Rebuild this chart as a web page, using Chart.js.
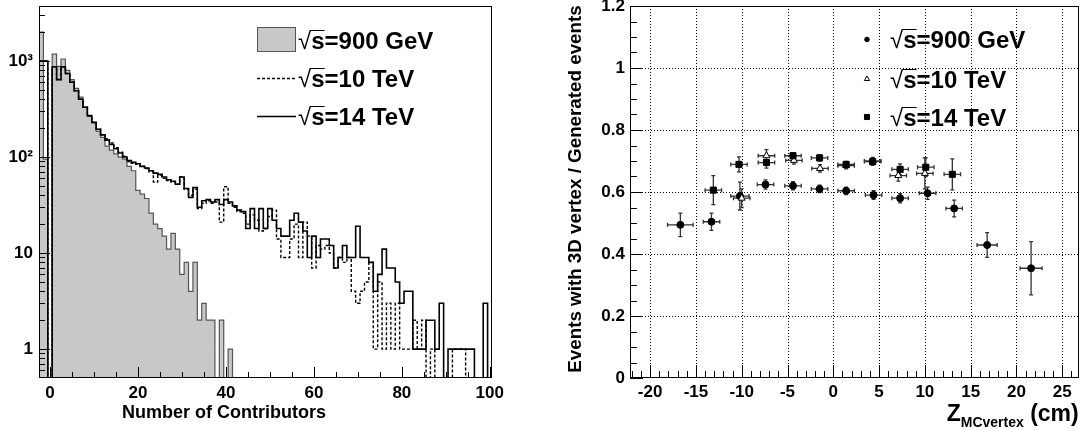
<!DOCTYPE html>
<html><head><meta charset="utf-8">
<script src="https://cdn.jsdelivr.net/npm/chart.js@4.4.1/dist/chart.umd.min.js"></script>
<style>
html,body{margin:0;padding:0;background:#fff;}
#wrap{position:relative;width:1084px;height:430px;overflow:hidden;background:#fff;}
#c1{position:absolute;left:0;top:0;}
#c2{position:absolute;left:540px;top:0;}
</style></head><body>
<div id="wrap"><canvas id="c1" width="540" height="430"></canvas><canvas id="c2" width="544" height="430"></canvas></div>
<script>
// ---------- data: left panel (histograms, bins -2 .. 100) ----------
const contributorBins = Array.from({length: 103}, (_, i) => i - 2);
const hist900GeV = [
  2000, 95, 0,
  1180, 880, 1050, 800, 640, 520, 420, 330, 265, 225,
  185, 160, 130, 118, 108, 100, 95, 80, 72, 45,
  41, 37, 26, 20, 18, 15, 11, 16, 11, 6,
  8, 4, 8, 2, 3, 2, 2, 0, 2, 0,
  1, 0, 0, 0, 0, 0, 0, 0, 0, 0,
  0, 0, 0, 0, 0, 0, 0, 0, 0, 0,
  0, 0, 0, 0, 0, 0, 0, 0, 0, 0,
  0, 0, 0, 0, 0, 0, 0, 0, 0, 0,
  0, 0, 0, 0, 0, 0, 0, 0, 0, 0,
  0, 0, 0, 0, 0, 0, 0, 0, 0, 0
];
const hist10TeV = [
  1000, 1000, 0,
  870, 640, 870, 740, 600, 490, 400, 330, 270, 230,
  195, 170, 155, 140, 125, 112, 102, 90, 86, 84,
  80, 76, 70, 55, 64, 60, 57, 55, 52, 62,
  46, 40, 46, 29, 33, 35, 33, 34, 21, 49,
  33, 30, 27, 26, 20, 25, 22, 17, 18, 24,
  28, 14, 9, 9, 14, 20, 9, 21, 15, 7,
  12, 11, 12, 10, 7, 9, 8, 9, 4, 3,
  4, 5, 8, 1, 5, 1, 3, 1, 3, 1,
  1, 1, 2, 1, 2, 0, 1, 0, 0, 0,
  0, 1, 1, 1, 0, 0, 0, 0, 0, 0
];
const hist14TeV = [
  1000, 1000, 0,
  870, 640, 870, 740, 600, 490, 400, 330, 270, 230,
  195, 170, 150, 135, 122, 110, 100, 92, 88, 85,
  80, 77, 72, 68, 66, 62, 58, 56, 52, 62,
  47, 38, 48, 30, 35, 36, 34, 36, 32, 36,
  34, 31, 28, 27, 18, 29, 18, 29, 18, 29,
  22, 18, 15, 15, 22, 26, 21, 17, 9, 15,
  9, 14, 14, 12, 7, 9, 12, 9, 9, 19,
  9, 9, 8, 4, 6, 11, 7, 7, 5, 3,
  4, 4, 1, 1, 1, 2, 2, 1, 3, 0,
  1, 1, 1, 1, 1, 1, 0, 0, 3, 0
];
const histXTicks = [0, 20, 40, 60, 80, 100];
const histXTickLabels = ['0', '20', '40', '60', '80', '100'];
const histYTicks = [1, 10, 100, 1000];
const histYTickLabels = ['1', '10', '10\u00B2', '10\u00B3'];
const seriesLabels = ['\u221As=900 GeV', '\u221As=10 TeV', '\u221As=14 TeV'];

// ---------- data: right panel (efficiency vs z) ----------
const z900 = [-16.7, -13.3, -10.2, -7.4, -4.4, -1.5, 1.4, 4.4, 7.3, 10.3, 13.2, 16.8, 21.6];
const eff900 = [0.494, 0.504, 0.587, 0.624, 0.620, 0.610, 0.604, 0.590, 0.580, 0.596, 0.547, 0.429, 0.354];
const zErr900 = [1.4, 0.9, 1.0, 0.9, 0.9, 0.9, 0.9, 0.9, 0.9, 0.9, 0.9, 1.1, 1.2];
const effErr900 = [0.038, 0.028, 0.045, 0.015, 0.013, 0.012, 0.012, 0.014, 0.015, 0.02, 0.027, 0.04, 0.086];

const z10 = [-10.0, -7.3, -4.3, -1.45, 1.4, 4.3, 7.1, 10.0];
const eff10 = [0.580, 0.717, 0.702, 0.676, 0.685, 0.700, 0.653, 0.660];
const zErr10 = [0.9, 0.9, 0.9, 0.9, 0.9, 0.9, 0.9, 0.9];
const effErr10 = [0.03, 0.02, 0.012, 0.012, 0.01, 0.012, 0.018, 0.05];

const z14 = [-13.1, -10.3, -7.3, -4.4, -1.5, 1.4, 4.3, 7.3, 10.1, 13.0];
const eff14 = [0.606, 0.689, 0.695, 0.717, 0.710, 0.689, 0.698, 0.673, 0.680, 0.657];
const zErr14 = [0.9, 0.9, 0.9, 0.9, 0.9, 0.9, 0.9, 0.9, 0.9, 0.9];
const effErr14 = [0.047, 0.024, 0.018, 0.01, 0.01, 0.01, 0.012, 0.018, 0.03, 0.05];

const effXTicks = [-20, -15, -10, -5, 0, 5, 10, 15, 20, 25];
const effXTickLabels = ['-20', '-15', '-10', '-5', '0', '5', '10', '15', '20', '25'];
const effYTicks = [0, 0.2, 0.4, 0.6, 0.8, 1, 1.2];
const effYTickLabels = ['0', '0.2', '0.4', '0.6', '0.8', '1', '1.2'];

// ---------- helpers ----------
const FONT = '"Liberation Sans", Arial, Helvetica, sans-serif';
const LOG_FLOOR = 1e-3; // empty bins are drawn below the axis minimum (log scale cannot show 0)
function stepPoints(vals) {
  const pts = [];
  vals.forEach((v, i) => {
    const c = contributorBins[i];
    const y = v > 0 ? v : LOG_FLOOR;
    pts.push({x: c - 0.5, y: y}, {x: c + 0.5, y: y});
  });
  return pts;
}
function range(a, b, step) { const r = []; for (let v = a; v <= b + 1e-9; v += step) r.push(+v.toFixed(4)); return r; }
function logMinor(min, max) {
  const r = [];
  for (let d = 0.1; d <= 1000; d *= 10) for (let m = 2; m <= 9; m++) { const v = +(m * d).toPrecision(3); if (v > min && v < max && histYTicks.indexOf(v) < 0) r.push(v); }
  return r;
}
function drawSqrtLabel(ctx, label, x, yc, size) {
  const rest = label.slice(2);
  ctx.save();
  ctx.fillStyle = '#000'; ctx.strokeStyle = '#000';
  ctx.textBaseline = 'alphabetic'; ctx.textAlign = 'left';
  const base = yc + size * 0.36;
  ctx.font = `${size}px ${FONT}`;
  const rad = ctx.measureText('\u221A');
  ctx.fillText('\u221A', x, base);
  const top = Math.round(base - rad.actualBoundingBoxAscent) + 0.5;
  ctx.font = `bold ${size}px ${FONT}`;
  const sw = ctx.measureText('s').width;
  const sx = x + rad.width;
  ctx.fillText('s' + rest, sx, base);
  ctx.lineWidth = 1;
  ctx.beginPath(); ctx.moveTo(sx - 1, top); ctx.lineTo(sx + sw, top); ctx.stroke();
  ctx.restore();
}

const rootFrame = {
  id: 'rootFrame',
  beforeDatasetsDraw(chart, args, o) {
    const ctx = chart.ctx, a = chart.chartArea, xs = chart.scales.x, ys = chart.scales.y;
    ctx.save();
    if (o.grid) {
      ctx.strokeStyle = '#000'; ctx.lineWidth = 1; ctx.setLineDash([1, 2]);
      o.grid.x.forEach(v => { const p = Math.round(xs.getPixelForValue(v)) + 0.5; ctx.beginPath(); ctx.moveTo(p, a.top); ctx.lineTo(p, a.bottom); ctx.stroke(); });
      o.grid.y.forEach(v => { const p = Math.round(ys.getPixelForValue(v)) + 0.5; ctx.beginPath(); ctx.moveTo(a.left, p); ctx.lineTo(a.right, p); ctx.stroke(); });
      ctx.setLineDash([]);
    }
    if (o.errorBars) {
      chart.data.datasets.forEach(ds => {
        ctx.strokeStyle = '#333'; ctx.lineWidth = 1.3;
        ds.data.forEach((p, j) => {
          const px = xs.getPixelForValue(p.x), py = ys.getPixelForValue(p.y);
          const x1 = xs.getPixelForValue(p.x - ds.xErr[j]), x2 = xs.getPixelForValue(p.x + ds.xErr[j]);
          const y1 = ys.getPixelForValue(p.y - ds.yErr[j]), y2 = ys.getPixelForValue(p.y + ds.yErr[j]);
          ctx.beginPath();
          ctx.moveTo(x1, py); ctx.lineTo(x2, py);
          ctx.moveTo(px, y1); ctx.lineTo(px, y2);
          ctx.moveTo(x1, py - 2); ctx.lineTo(x1, py + 2);
          ctx.moveTo(x2, py - 2); ctx.lineTo(x2, py + 2);
          ctx.moveTo(px - 2, y1); ctx.lineTo(px + 2, y1);
          ctx.moveTo(px - 2, y2); ctx.lineTo(px + 2, y2);
          ctx.stroke();
        });
      });
    }
    ctx.restore();
  },
  afterDraw(chart, args, o) {
    const ctx = chart.ctx, a = chart.chartArea, xs = chart.scales.x, ys = chart.scales.y;
    ctx.save();
    ctx.strokeStyle = '#000'; ctx.lineWidth = 1;
    ctx.strokeRect(Math.round(a.left) + 0.5, Math.round(a.top) + 0.5, Math.round(a.width) - 1, Math.round(a.height) - 1);
    ctx.beginPath();
    o.ticks.xMajor.forEach(v => { const p = Math.round(xs.getPixelForValue(v)) + 0.5; ctx.moveTo(p, a.bottom); ctx.lineTo(p, a.bottom - o.ticks.majorLen); });
    o.ticks.xMinor.forEach(v => { const p = Math.round(xs.getPixelForValue(v)) + 0.5; ctx.moveTo(p, a.bottom); ctx.lineTo(p, a.bottom - o.ticks.minorLen); });
    o.ticks.yMajor.forEach(v => { const p = Math.round(ys.getPixelForValue(v)) + 0.5; ctx.moveTo(a.left, p); ctx.lineTo(a.left + o.ticks.majorLen, p); });
    o.ticks.yMinor.forEach(v => { const p = Math.round(ys.getPixelForValue(v)) + 0.5; ctx.moveTo(a.left, p); ctx.lineTo(a.left + o.ticks.minorLen, p); });
    ctx.stroke();
    ctx.restore();
  }
};

const leftDecor = {
  id: 'leftDecor',
  afterDraw(chart) {
    const ctx = chart.ctx, ds = chart.data.datasets;
    ctx.save();
    // legend
    const g = ds[2];
    ctx.fillStyle = g.backgroundColor; ctx.fillRect(257, 27, 39, 25);
    ctx.strokeStyle = g.borderColor; ctx.lineWidth = 1; ctx.strokeRect(257.5, 27.5, 38, 24);
    ctx.strokeStyle = '#000';
    ctx.lineWidth = ds[1].borderWidth; ctx.setLineDash(ds[1].borderDash);
    ctx.beginPath(); ctx.moveTo(257, 78.5); ctx.lineTo(296, 78.5); ctx.stroke();
    ctx.setLineDash([]); ctx.lineWidth = 1.3;
    ctx.beginPath(); ctx.moveTo(257, 116.5); ctx.lineTo(296, 116.5); ctx.stroke();
    drawSqrtLabel(ctx, g.label, 298, 40, 24);
    drawSqrtLabel(ctx, ds[1].label, 298, 78, 24);
    drawSqrtLabel(ctx, ds[0].label, 298, 116, 24);
    // axis title
    ctx.fillStyle = '#000'; ctx.font = `bold 18px ${FONT}`; ctx.textAlign = 'center'; ctx.textBaseline = 'alphabetic';
    ctx.fillText('Number of Contributors', 224, 418);
    ctx.restore();
  }
};

const rightDecor = {
  id: 'rightDecor',
  afterDraw(chart) {
    const ctx = chart.ctx, ds = chart.data.datasets;
    ctx.save();
    const ys = [39.5, 79, 117];
    ds.forEach((d, i) => {
      ctx.fillStyle = d.backgroundColor; ctx.strokeStyle = d.borderColor; ctx.lineWidth = 1;
      Chart.helpers.drawPoint(ctx, {pointStyle: d.pointStyle, radius: d.legendRadius, borderWidth: 1}, 327, ys[i]);
      drawSqrtLabel(ctx, d.label, 350, ys[i], 24);
    });
    // y title
    ctx.fillStyle = '#000'; ctx.font = `bold 18.8px ${FONT}`; ctx.textAlign = 'center'; ctx.textBaseline = 'middle';
    ctx.save(); ctx.translate(36, 189); ctx.rotate(-Math.PI / 2);
    ctx.fillText('Events with 3D vertex / Generated events', 0, 0);
    ctx.restore();
    // x title (right aligned at frame end)
    ctx.textBaseline = 'alphabetic'; ctx.textAlign = 'left';
    ctx.font = `bold 23px ${FONT}`;
    const wZ = ctx.measureText('Z').width, wCm = ctx.measureText(' (cm)').width;
    ctx.font = `bold 14px ${FONT}`;
    const wSub = ctx.measureText('MCvertex').width;
    let x = chart.chartArea.right - (wZ + wSub + wCm);
    ctx.font = `bold 23px ${FONT}`; ctx.fillText('Z', x, 421); x += wZ;
    ctx.font = `bold 14px ${FONT}`; ctx.fillText('MCvertex', x, 427); x += wSub;
    ctx.font = `bold 23px ${FONT}`; ctx.fillText(' (cm)', x, 421);
    ctx.restore();
  }
};

const tickFont = {family: FONT, size: 17, weight: 'bold'};

// ---------- left chart ----------
new Chart(document.getElementById('c1'), {
  type: 'line',
  data: {
    datasets: [
      {label: seriesLabels[2], data: stepPoints(hist14TeV), borderColor: '#000', borderWidth: 1.6, pointRadius: 0, fill: false, order: 1},
      {label: seriesLabels[1], data: stepPoints(hist10TeV), borderColor: '#000', borderWidth: 1.4, borderDash: [3, 2], pointRadius: 0, fill: false, order: 2},
      {label: seriesLabels[0], data: stepPoints(hist900GeV), borderColor: '#555', backgroundColor: '#c8c8c8', borderWidth: 1.2, pointRadius: 0, fill: 'start', order: 3}
    ]
  },
  options: {
    responsive: false, animation: false, events: [],
    layout: {padding: {top: 6, right: 48, left: 0, bottom: 0}},
    plugins: {
      legend: {display: false}, tooltip: {enabled: false},
      rootFrame: {ticks: {
        xMajor: histXTicks, xMinor: range(0, 100, 5).filter(v => v % 20 !== 0),
        yMajor: histYTicks, yMinor: logMinor(0.5, 3740), majorLen: 11, minorLen: 6
      }}
    },
    scales: {
      x: {
        type: 'linear', min: -2.5, max: 100.5,
        grid: {display: false, drawTicks: false}, border: {display: false},
        afterBuildTicks: s => { s.ticks = histXTicks.map(v => ({value: v})); },
        afterFit: s => { s.height = 52; s.paddingLeft = 0; s.paddingRight = 0; },
        ticks: {padding: 5, autoSkip: false, maxRotation: 0, font: tickFont, color: '#000', callback: (v, i) => histXTickLabels[i]}
      },
      y: {
        type: 'logarithmic', min: 0.5, max: 3740,
        grid: {display: false, drawTicks: false}, border: {display: false},
        afterBuildTicks: s => { s.ticks = histYTicks.map(v => ({value: v})); },
        afterFit: s => { s.width = 39; s.paddingTop = 0; s.paddingBottom = 0; },
        ticks: {padding: 6, autoSkip: false, font: tickFont, color: '#000', callback: (v, i) => histYTickLabels[i]}
      }
    }
  },
  plugins: [rootFrame, leftDecor]
});

// ---------- right chart ----------
function pts(zs, es) { return zs.map((z, i) => ({x: z, y: es[i]})); }
new Chart(document.getElementById('c2'), {
  type: 'scatter',
  data: {
    datasets: [
      {label: seriesLabels[0], data: pts(z900, eff900), xErr: zErr900, yErr: effErr900, pointStyle: 'circle', pointRadius: 3.5, legendRadius: 2.3, backgroundColor: '#000', borderColor: '#000', borderWidth: 1, order: 3},
      {label: seriesLabels[1], data: pts(z10, eff10), xErr: zErr10, yErr: effErr10, pointStyle: 'triangle', pointRadius: 4, legendRadius: 3, backgroundColor: '#fff', borderColor: '#000', borderWidth: 1, order: 2},
      {label: seriesLabels[2], data: pts(z14, eff14), xErr: zErr14, yErr: effErr14, pointStyle: 'rect', pointRadius: 4.3, legendRadius: 3.6, backgroundColor: '#000', borderColor: '#000', borderWidth: 1, order: 1}
    ]
  },
  options: {
    responsive: false, animation: false, events: [],
    layout: {padding: {top: 6, right: 2, left: 0, bottom: 0}},
    plugins: {
      legend: {display: false}, tooltip: {enabled: false},
      rootFrame: {
        grid: {x: effXTicks, y: effYTicks.filter(v => v > 0)},
        errorBars: true,
        ticks: {
          xMajor: effXTicks, xMinor: range(-22, 26, 1).filter(v => v % 5 !== 0),
          yMajor: effYTicks, yMinor: range(0, 1.2, 0.05).filter(v => Math.abs(v / 0.2 - Math.round(v / 0.2)) > 1e-6),
          majorLen: 13, minorLen: 7
        }
      }
    },
    scales: {
      x: {
        type: 'linear', min: -22.2, max: 26.8,
        grid: {display: false, drawTicks: false}, border: {display: false},
        afterBuildTicks: s => { s.ticks = effXTicks.map(v => ({value: v})); },
        afterFit: s => { s.height = 52; s.paddingLeft = 0; s.paddingRight = 0; },
        ticks: {padding: 4, autoSkip: false, maxRotation: 0, font: tickFont, color: '#000', callback: (v, i) => effXTickLabels[i]}
      },
      y: {
        type: 'linear', min: 0, max: 1.2,
        grid: {display: false, drawTicks: false}, border: {display: false},
        afterBuildTicks: s => { s.ticks = effYTicks.map(v => ({value: v})); },
        afterFit: s => { s.width = 90; s.paddingTop = 0; s.paddingBottom = 0; },
        ticks: {padding: 5, autoSkip: false, font: tickFont, color: '#000', callback: (v, i) => effYTickLabels[i]}
      }
    }
  },
  plugins: [rootFrame, rightDecor]
});
</script>
</body></html>
